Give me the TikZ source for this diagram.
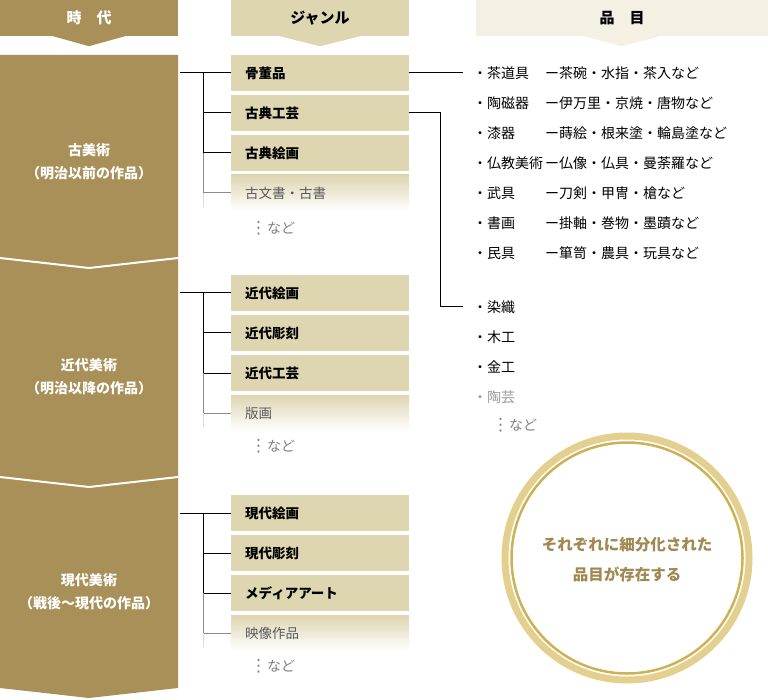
\documentclass[tikz,border=0pt]{standalone}
\usepackage{fontspec}
\setmainfont{Noto Sans CJK JP}
\newfontfamily\symfont{DejaVu Sans}
\usepackage{xcolor}
\usepackage{tikz}
\definecolor{eraC}{HTML}{A89058}
\definecolor{genreC}{HTML}{DED5B1}
\definecolor{itemC}{HTML}{F4F0E3}
\definecolor{ringA}{HTML}{E4D08E}
\definecolor{ringB}{HTML}{CFB155}
\definecolor{ringT}{HTML}{A08852}
\newcommand{\vdotsmark}{{\symfont\fontsize{17}{17}\selectfont ⋮}}

\begin{document}
\begin{tikzpicture}[x=1pt,y=-1pt,
    every node/.style={inner sep=0pt,font=\fontsize{14}{16}\selectfont},
    head/.style={minimum height=36pt,font=\fontsize{15}{17}\selectfont\bfseries},
    genre/.style={fill=genreC,minimum height=36pt,text width=150pt,inner xsep=14pt,anchor=west,font=\fontsize{13.5}{16}\selectfont\bfseries},
    fadegenre/.style={genre,fill=none,top color=genreC,middle color=genreC!60,bottom color=white,text=black!65,font=\fontsize{13.5}{16}\selectfont},
    era/.style={text=white,align=center,font=\fontsize{14}{23}\selectfont\bfseries},
    item/.style={anchor=west},
    etc/.style={anchor=west,text=black!50},
    line/.style={line width=1pt},
    faint/.style={line width=1pt,black!45}]
    %
    \useasboundingbox (0,0) rectangle (768,700);
    %
    \fill[eraC] (0,55) -- (178,55) -- (178,688) -- (89,698) -- (0,688) -- cycle;
    \draw[white,line width=2pt] (0,258) -- (89,268) -- (178,258);
    \draw[white,line width=2pt] (0,477) -- (89,487) -- (178,477);
    %
    \node[head,fill=eraC,text=white,minimum width=178pt] (h1) at (89,18) {時　代};
    \node[head,fill=genreC,minimum width=178pt] (h2) at (320,18) {ジャンル};
    \node[head,fill=itemC,minimum width=292pt] (h3) at (622,18) {品　目};
    \fill[eraC] ([xshift=-36pt]h1.south) -- ([yshift=-10pt]h1.south) -- ([xshift=36pt]h1.south) -- cycle;
    \fill[genreC] ([xshift=-40pt]h2.south) -- ([yshift=-10pt]h2.south) -- ([xshift=40pt]h2.south) -- cycle;
    \fill[itemC] ([xshift=-38pt]h3.south) -- ([yshift=-10pt]h3.south) -- ([xshift=38pt]h3.south) -- cycle;
    %
    \node[era] (e1) at (89,162) {古美術\\（明治以前の作品）};
    \node[era] (e2) at (89,377) {近代美術\\（明治以降の作品）};
    \node[era] (e3) at (89,592) {現代美術\\（戦後〜現代の作品）};
    %
    \node[genre] (g11) at (231,73) {骨董品};
    \node[genre] (g12) at (231,113) {古典工芸};
    \node[genre] (g13) at (231,153) {古典絵画};
    \node[fadegenre] (g14) at (231,193) {古文書・古書};
    \node[etc] (n1) at (250,228) {\vdotsmark など};
    %
    \node[genre] (g21) at (231,293) {近代絵画};
    \node[genre] (g22) at (231,333) {近代彫刻};
    \node[genre] (g23) at (231,373) {近代工芸};
    \node[fadegenre] (g24) at (231,413) {版画};
    \node[etc] (n2) at (250,446) {\vdotsmark など};
    %
    \node[genre] (g31) at (231,513) {現代絵画};
    \node[genre] (g32) at (231,553) {現代彫刻};
    \node[genre] (g33) at (231,593) {メディアアート};
    \node[fadegenre] (g34) at (231,633) {映像作品};
    \node[etc] (n3) at (250,666) {\vdotsmark など};
    %
    \coordinate (r1) at (180,73);
    \coordinate (k1) at (203,73);
    \draw[line] (r1) -- (g11.west);
    \draw[line] (k1) |- (g13.west);
    \draw[line] (k1 |- g12.west) -- (g12.west);
    \draw[faint] (k1 |- g13.west) |- (g14.west);
    \draw[line,black!15] (k1 |- g14.west) -- ++(0,14);
    %
    \coordinate (r2) at (180,293);
    \coordinate (k2) at (203,293);
    \draw[line] (r2) -- (g21.west);
    \draw[line] (k2) |- (g23.west);
    \draw[line] (k2 |- g22.west) -- (g22.west);
    \draw[faint] (k2 |- g23.west) |- (g24.west);
    \draw[line,black!15] (k2 |- g24.west) -- ++(0,14);
    %
    \coordinate (r3) at (180,513);
    \coordinate (k3) at (203,513);
    \draw[line] (r3) -- (g31.west);
    \draw[line] (k3) |- (g33.west);
    \draw[line] (k3 |- g32.west) -- (g32.west);
    \draw[faint] (k3 |- g33.west) |- (g34.west);
    \draw[line,black!15] (k3 |- g34.west) -- ++(0,14);
    %
    \node[item] (i1) at (473,73) {\makebox[72pt][l]{・茶道具}ー茶碗・水指・茶入など};
    \node[item] (i2) at (473,103) {\makebox[72pt][l]{・陶磁器}ー伊万里・京焼・唐物など};
    \node[item] (i3) at (473,133) {\makebox[72pt][l]{・漆器}ー蒔絵・根来塗・輪島塗など};
    \node[item] (i4) at (473,163) {\makebox[72pt][l]{・仏教美術}ー仏像・仏具・曼荼羅など};
    \node[item] (i5) at (473,193) {\makebox[72pt][l]{・武具}ー刀剣・甲冑・槍など};
    \node[item] (i6) at (473,223) {\makebox[72pt][l]{・書画}ー掛軸・巻物・墨蹟など};
    \node[item] (i7) at (473,253) {\makebox[72pt][l]{・民具}ー箪笥・農具・玩具など};
    %
    \node[item] (j1) at (473,307) {・染織};
    \node[item] (j2) at (473,337) {・木工};
    \node[item] (j3) at (473,367) {・金工};
    \node[item,text=black!40] (j4) at (473,397) {・陶芸};
    \node[etc] (n4) at (492,425) {\vdotsmark など};
    %
    \coordinate (k4) at (440,113);
    \draw[line,shorten >=10pt] (g11.east) -- (i1.west);
    \draw[line,shorten >=10pt] (g12.east) -| (k4 |- j1.west) -- (j1.west);
    %
    \coordinate (c) at (627,558);
    \draw[ringA,line width=7pt] (c) circle[radius=122pt];
    \draw[ringB,line width=2.5pt] (c) circle[radius=115.5pt];
    \node[text=ringT,align=center,font=\fontsize{15.5}{30}\selectfont\bfseries] (msg) at (627,560) {それぞれに細分化された\\品目が存在する};
    %
\end{tikzpicture}
\end{document}
